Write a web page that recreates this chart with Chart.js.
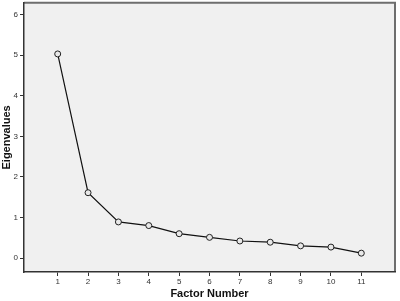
<!DOCTYPE html>
<html>
<head>
<meta charset="utf-8">
<script src="https://cdn.jsdelivr.net/npm/chart.js@4"></script>
<style>
  html, body { margin: 0; padding: 0; background: #fff; overflow: hidden; }
  /* shifted up so the plot frame touches the top like the original */
  #wrap { width: 400px; height: 305px; margin-top: -4px; }
</style>
</head>
<body>
<div id="wrap"><canvas id="chart"></canvas></div>
<script>
const factors = [1, 2, 3, 4, 5, 6, 7, 8, 9, 10, 11]
const eigenvalues = [5.03, 1.61, 0.89, 0.80, 0.60, 0.51, 0.42, 0.39, 0.30, 0.27, 0.12]
const yTicks = [0, 1, 2, 3, 4, 5, 6]

// grey plot background and frame, like SPSS output
const plotFrame = {
  id: "plotFrame",
  beforeDraw(chart) {
    const { ctx, chartArea: a } = chart
    ctx.save()
    ctx.fillStyle = "#f0f0f0"
    ctx.fillRect(a.left, a.top, a.right - a.left, a.bottom - a.top)
    ctx.strokeStyle = "#6e6e6e"
    ctx.lineWidth = 2
    ctx.beginPath()
    ctx.moveTo(a.left, a.top)
    ctx.lineTo(a.right, a.top)
    ctx.lineTo(a.right, a.bottom)
    ctx.stroke()
    ctx.restore()
  },
}

const tickFont = { size: 8, family: "Liberation Sans, Arial, sans-serif" }
const titleFont = { size: 11, weight: "bold", family: "Liberation Sans, Arial, sans-serif" }

new Chart(document.getElementById("chart").getContext("2d"), {
  type: "line",
  data: {
    datasets: [
      {
        label: "Eigenvalues",
        data: factors.map((f, i) => ({ x: f, y: eigenvalues[i] })),
        borderColor: "#111",
        borderWidth: 1.2,
        pointRadius: 3,
        pointBorderWidth: 1,
        pointBorderColor: "#222",
        pointBackgroundColor: "#e8e8e8",
        tension: 0,
      },
    ],
  },
  options: {
    responsive: true,
    maintainAspectRatio: false,
    animation: false,
    layout: { padding: { top: 0, right: 2, left: 0, bottom: 0 } },
    plugins: { legend: { display: false }, tooltip: { enabled: false } },
    scales: {
      x: {
        type: "linear",
        min: -0.11,
        max: 12.11,
        afterBuildTicks: (s) => { s.ticks = factors.map((v) => ({ value: v })) },
        afterFit: (s) => { s.height = 29 },
        border: { display: true, color: "#333", width: 1.5 },
        grid: { drawOnChartArea: false, drawTicks: true, tickLength: 4, color: "#333" },
        ticks: { font: tickFont, color: "#333", padding: 1, maxRotation: 0 },
        title: { display: true, text: "Factor Number", font: titleFont, color: "#111", padding: { top: 0, bottom: 0 } },
      },
      y: {
        min: -0.344,
        max: 6.29,
        afterBuildTicks: (s) => { s.ticks = yTicks.map((v) => ({ value: v })) },
        afterFit: (s) => { s.width = 24 },
        border: { display: true, color: "#333", width: 1.5 },
        grid: { drawOnChartArea: false, drawTicks: true, tickLength: 4, color: "#333" },
        ticks: { font: tickFont, color: "#333", padding: 2 },
        title: { display: true, text: "Eigenvalues", font: titleFont, color: "#111", padding: { top: 0, bottom: 0 } },
      },
    },
  },
  plugins: [plotFrame],
})
</script>
</body>
</html>
